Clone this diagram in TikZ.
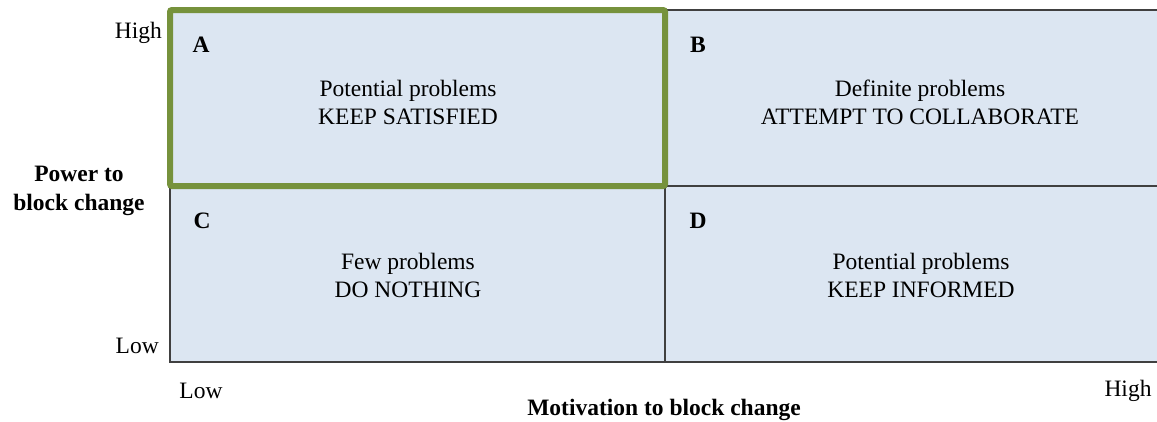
\documentclass[tikz,border=0pt]{standalone}
\usepackage{fontspec}
\setmainfont{Liberation Serif}
\definecolor{cellfill}{HTML}{DCE6F2}
\definecolor{gridline}{HTML}{404040}
\definecolor{hilite}{HTML}{76923C}
\tikzset{
  cell/.style={draw=gridline, line width=1.3pt, fill=cellfill, inner sep=0pt, outer sep=0pt},
  txt/.style={font=\fontsize{23.5}{28}\selectfont, inner sep=0pt, align=center},
  lbl/.style={font=\fontsize{23.5}{28}\selectfont\bfseries, inner sep=0pt},
  axis/.style={font=\fontsize{23.5}{29}\selectfont\bfseries, inner sep=0pt, align=center},
}
\begin{document}
\begin{tikzpicture}[x=1pt,y=-1pt]
\useasboundingbox (0,0) rectangle (1157,421);
\begin{scope}
\clip (0,0) rectangle (1157,421);
\node[cell, minimum width=495pt, minimum height=176pt, anchor=north west] (cA) at (170,10) {};
\node[cell, minimum width=495pt, minimum height=176pt, anchor=north west] (cB) at (665,10) {};
\node[cell, minimum width=495pt, minimum height=176pt, anchor=north west] (cC) at (170,186) {};
\node[cell, minimum width=495pt, minimum height=176pt, anchor=north west] (cD) at (665,186) {};
\end{scope}
\draw[hilite, line width=6pt, rounded corners=2pt] (cA.north west) rectangle (cA.south east);

\node[lbl] (la) at (201,45) {A};
\node[lbl] (lb) at (698,45) {B};
\node[lbl] (lc) at (202,221) {C};
\node[lbl] (ld) at (698,221) {D};

\node[txt] (ta) at (408,102) {Potential problems\\KEEP SATISFIED};
\node[txt] (tb) at (920,102) {Definite problems\\ATTEMPT TO COLLABORATE};
\node[txt] (tc) at (408,275) {Few problems\\DO NOTHING};
\node[txt] (td) at (921,275) {Potential problems\\KEEP INFORMED};

\node[txt, anchor=east] (yh) at (162,33) {High};
\node[txt, anchor=east] (yl) at (159,346) {Low};
\node[axis] (ya) at (79,191) {Power to\\block change};

\node[txt] (xl) at (201,391) {Low};
\node[txt] (xh) at (1128,391) {High};
\node[axis] (xa) at (664,410) {Motivation to block change};
\end{tikzpicture}
\end{document}
